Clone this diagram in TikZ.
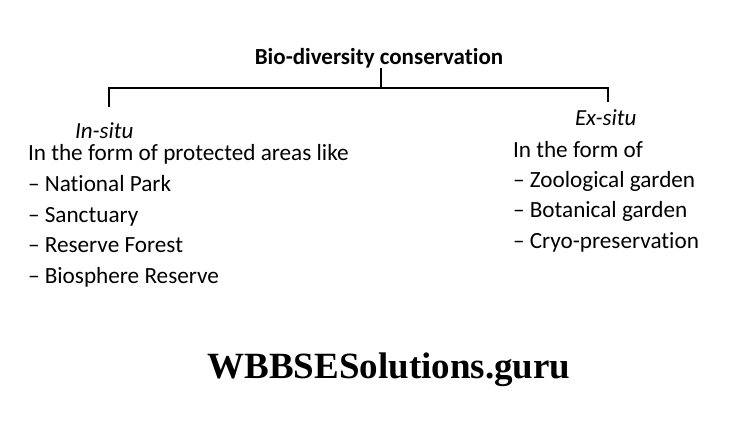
\documentclass[tikz,border=0pt]{standalone}
\usepackage{fontspec}
\setmainfont{Carlito}[Ligatures={TeX,NoCommon}]
\newfontfamily\sitefont{Liberation Serif}
\usetikzlibrary{positioning}
\tikzset{
every node/.style={inner sep=0pt, outer sep=0pt}, % text sits right on its anchor
head/.style={font=\fontsize{23}{27}\selectfont\bfseries, anchor=base}, % the top heading
branch/.style={font=\fontsize{23}{27}\selectfont\itshape, anchor=base west}, % In-situ / Ex-situ
entry/.style={font=\fontsize{23.2}{27}\selectfont, anchor=base west}, % one line of a list
bracket/.style={line width=1.3pt}, % the tree lines
watermark/.style={font=\sitefont\bfseries\fontsize{37}{40}\selectfont, anchor=base},
}

\begin{document}
\begin{tikzpicture}[x=1pt,y=-1pt]
\useasboundingbox (0,0) rectangle (745,421);

\node[head] (bdc) at (379,64) {Bio-diversity conservation};

% left branch
\node[branch] (insitu) at (75,138) {In-situ};
\node[entry] (inform) at (28,160) {In the form of protected areas like};
\node[entry, below=31.5pt of inform.base west, anchor=base west] (np) {– National Park};
\node[entry, below=30.5pt of np.base west, anchor=base west] (sanct) {– Sanctuary};
\node[entry, below=30.5pt of sanct.base west, anchor=base west] (rf) {– Reserve Forest};
\node[entry, below=30.8pt of rf.base west, anchor=base west] (br) {– Biosphere Reserve};

% right branch
\node[branch] (exsitu) at (575,125) {Ex-situ};
\node[entry] (exform) at (513,157) {In the form of};
\node[entry, below=30pt of exform.base west, anchor=base west] (zoo) {– Zoological garden};
\node[entry, below=30.5pt of zoo.base west, anchor=base west] (bot) {– Botanical garden};
\node[entry, below=30.8pt of bot.base west, anchor=base west] (cryo) {– Cryo-preservation};

% the bracket
\coordinate (split) at (381,88);
\coordinate (intip) at (109,107);
\coordinate (extip) at (608,102);
\draw[bracket] (split |- bdc.south) -- (split);
\draw[bracket] (intip) -- (intip |- split) -- (extip |- split) -- (extip);

\node[watermark] (site) at (389,378) {WBBSESolutions.guru};

\end{tikzpicture}
\end{document}
